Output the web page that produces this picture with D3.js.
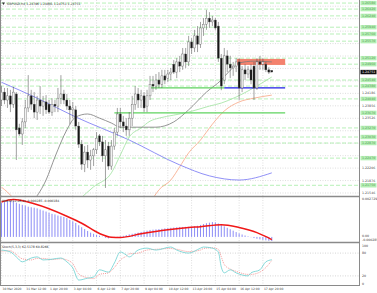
<!DOCTYPE html>
<html><head><meta charset="utf-8">
<script src="https://cdn.jsdelivr.net/npm/d3@7"></script>
<style>body{margin:0;background:#fff}svg{display:block}text{font-family:"DejaVu Sans",sans-serif}</style>
</head><body><div id="chart"></div>
<script>
// GBPUSD H4 candles [open, high, low, close]
const candles = [
[1.2401,1.2438,1.2385,1.2422],[1.2422,1.2433,1.2390,1.2401],[1.2401,1.2433,1.2380,1.2412],[1.2412,1.2428,1.2369,1.2390],
[1.2390,1.2436,1.2380,1.2422],[1.2417,1.2422,1.2242,1.2322],[1.2327,1.2338,1.2306,1.2311],[1.2311,1.2353,1.2282,1.2343],
[1.2343,1.2401,1.2327,1.2380],[1.2380,1.2467,1.2369,1.2412],[1.2412,1.2428,1.2375,1.2390],[1.2390,1.2422,1.2353,1.2369],
[1.2369,1.2412,1.2348,1.2401],[1.2401,1.2438,1.2364,1.2385],[1.2385,1.2412,1.2359,1.2396],[1.2396,1.2414,1.2364,1.2375],
[1.2390,1.2401,1.2364,1.2369],[1.2369,1.2406,1.2359,1.2390],[1.2390,1.2401,1.2369,1.2385],[1.2385,1.2433,1.2369,1.2406],
[1.2406,1.2467,1.2390,1.2417],[1.2417,1.2428,1.2390,1.2401],[1.2401,1.2417,1.2375,1.2385],[1.2385,1.2401,1.2337,1.2375],
[1.2375,1.2396,1.2353,1.2380],[1.2375,1.2385,1.2322,1.2332],[1.2332,1.2343,1.2274,1.2284],[1.2284,1.2295,1.2216,1.2231],
[1.2231,1.2279,1.2210,1.2263],[1.2263,1.2282,1.2221,1.2242],[1.2242,1.2269,1.2216,1.2253],[1.2253,1.2274,1.2226,1.2269],
[1.2269,1.2316,1.2258,1.2300],[1.2306,1.2311,1.2279,1.2290],[1.2290,1.2306,1.2237,1.2253],[1.2253,1.2295,1.2168,1.2269],
[1.2279,1.2290,1.2216,1.2226],[1.2226,1.2295,1.2216,1.2279],[1.2279,1.2327,1.2269,1.2316],[1.2316,1.2380,1.2306,1.2364],
[1.2364,1.2380,1.2327,1.2343],[1.2343,1.2359,1.2316,1.2332],[1.2332,1.2353,1.2306,1.2322],[1.2322,1.2369,1.2306,1.2353],
[1.2353,1.2412,1.2332,1.2390],[1.2390,1.2438,1.2375,1.2417],[1.2417,1.2433,1.2380,1.2401],[1.2401,1.2428,1.2380,1.2412],
[1.2412,1.2422,1.2369,1.2380],[1.2385,1.2428,1.2369,1.2412],[1.2412,1.2465,1.2401,1.2443],[1.2443,1.2465,1.2422,1.2438],
[1.2438,1.2470,1.2428,1.2454],[1.2454,1.2475,1.2433,1.2443],[1.2443,1.2481,1.2433,1.2465],[1.2465,1.2481,1.2443,1.2454],
[1.2459,1.2481,1.2449,1.2470],[1.2470,1.2486,1.2454,1.2475],[1.2496,1.2507,1.2470,1.2475],[1.2475,1.2512,1.2459,1.2502],
[1.2502,1.2518,1.2475,1.2491],[1.2491,1.2539,1.2481,1.2523],[1.2523,1.2539,1.2486,1.2502],[1.2502,1.2571,1.2491,1.2555],
[1.2555,1.2565,1.2523,1.2539],[1.2539,1.2587,1.2528,1.2571],[1.2571,1.2597,1.2528,1.2549],[1.2549,1.2608,1.2539,1.2592],
[1.2592,1.2618,1.2571,1.2602],[1.2602,1.2640,1.2587,1.2618],[1.2618,1.2634,1.2592,1.2608],[1.2608,1.2624,1.2597,1.2613],
[1.2613,1.2618,1.2587,1.2592],[1.2597,1.2608,1.2502,1.2512],[1.2512,1.2523,1.2427,1.2438],[1.2454,1.2539,1.2443,1.2518],
[1.2518,1.2533,1.2475,1.2496],[1.2496,1.2518,1.2459,1.2486],[1.2486,1.2502,1.2465,1.2491],[1.2491,1.2512,1.2475,1.2502],
[1.2502,1.2512,1.2401,1.2433],[1.2433,1.2491,1.2422,1.2481],[1.2481,1.2496,1.2454,1.2470],[1.2470,1.2491,1.2459,1.2481],
[1.2481,1.2496,1.2443,1.2454],[1.2491,1.2502,1.2401,1.2433],[1.2433,1.2512,1.2428,1.2502],[1.2502,1.2518,1.2481,1.2496],
[1.2496,1.2512,1.2481,1.2502],[1.2496,1.2502,1.2475,1.2481],[1.2481,1.2488,1.2470,1.2475],[1.24796,1.24801,1.24751,1.24751]
]

// moving averages, read at sample bars [bar, price]
const maGray = [[11,1.2136],[15,1.2189],[18,1.2250],[22,1.2322],[25,1.2356],[29,1.2364],[33,1.2353],[37,1.2340],[40,1.2329],[46,1.2329],[52,1.2329],[58,1.2343],[63,1.2375],[69,1.2422],[74,1.2454],[77,1.2480],[80,1.2499],[85,1.2504],[91,1.2502]]
const maGreen = [[26,1.2136],[31,1.2171],[37,1.2208],[40,1.2255],[43,1.2303],[47,1.2327],[50,1.2345],[53,1.2353],[58,1.2361],[63,1.2369],[70,1.2385],[74,1.2393],[79,1.2409],[83,1.2425],[87,1.2443],[91,1.2462]]
const maOrange = [[0,1.2170],[2,1.2157],[4,1.2141],[10,1.2100],[30,1.2060],[45,1.2085],[51,1.2141],[53,1.2163],[57,1.2189],[60,1.2224],[63,1.2261],[67,1.2295],[71,1.2337],[75,1.2372],[80,1.2396],[85,1.2406],[91,1.2414]]
const maBlue = [[0,1.2448],[12,1.2406],[25,1.2356],[43,1.2295],[60,1.2229],[70,1.2200],[80,1.2189],[91,1.2208]]

// drawn levels
const greenLevels = [[50,75,1.2433],[38,95.5,1.2367]]
const blueLevels = [[75,95.5,1.2433]]
const redZone = [79.3,95.5,1.2510,1.2494]
const dashLevels = [1.2658,1.2642,1.2624,1.2594,1.2576,1.2557,1.2512,1.2496,1.2454,1.2438,1.2404,1.2327,1.2303,1.2287,1.2247,1.2175]

const priceTicks = ["1.21546","1.21876","1.22206","1.22536","1.22866","1.23196","1.23526","1.23856","1.24186","1.24516","1.24846","1.25176","1.25506","1.25836","1.26166","1.26496"]
const lastPrice = "1.24751"

// MACD histogram per bar and signal samples
const macdHist = [0.00240,0.00245,0.00250,0.00252,0.00250,0.00240,0.00232,0.00225,0.00220,0.00212,0.00208,0.00205,0.00200,0.00192,0.00185,0.00178,
0.00170,0.00162,0.00158,0.00150,0.00145,0.00140,0.00132,0.00120,0.00110,0.00098,0.00082,0.00068,0.00055,0.00042,0.00030,0.00022,
0.00015,0.00008,0.00002,-0.00006,-0.00010,-0.00008,-0.00004,0.00001,0.00004,0.00008,0.00013,0.00018,0.00022,0.00026,0.00030,0.00035,
0.00039,0.00044,0.00049,0.00051,0.00053,0.00055,0.00057,0.00060,0.00062,0.00064,0.00066,0.00068,0.00070,0.00070,0.00071,0.00071,
0.00072,0.00074,0.00078,0.00084,0.00090,0.00096,0.00100,0.00104,0.00102,0.00094,0.00084,0.00074,0.00064,0.00054,0.00044,0.00034,
0.00025,0.00017,0.00010,0.00004,-0.00002,-0.00008,-0.00013,-0.00017,-0.00021,-0.00024,-0.00027,-0.000285]
const macdSignal = [[0,0.00245],[4,0.00262],[11,0.00232],[22,0.00145],[27,0.00096],[33,0.00024],[37,-0.00002],[40,-0.00004],[47,0.00022],[56,0.00050],[63,0.00066],[67,0.00072],[74,0.00086],[80,0.00066],[86,0.00030],[91,-0.000184]]

// stochastic samples [bar, value]
const stochK = [[0,88],[3,83],[5,70],[7,57],[10,67],[12,70],[14,62],[17,64],[20,67],[22,57],[24,41],[26,9],[29,14],[31,17],[33,36],[36,30],[38,54],[40,83],[42,75],[43,70],[46,88],[49,93],[52,88],[57,96],[59,88],[63,80],[67,93],[68,96],[71,93],[73,83],[74,43],[75,28],[77,36],[79,28],[83,20],[84,28],[87,36],[89,57],[91,62.5]]
const stochD = [[0,85],[3,86],[5,76],[7,65],[10,62],[12,66],[14,66],[17,63],[20,65],[22,62],[24,52],[26,25],[29,15],[31,13],[33,24],[36,28],[38,42],[40,62],[42,72],[43,78],[46,80],[49,88],[52,90],[57,92],[59,90],[63,84],[67,88],[68,92],[71,94],[73,90],[74,70],[75,50],[77,38],[79,32],[83,24],[84,24],[87,30],[89,42],[91,60.8]]

const timeLabels = ["30 Mar 2020","31 Mar 12:00","1 Apr 20:00","3 Apr 04:00","6 Apr 12:00","7 Apr 20:00","9 Apr 04:00","10 Apr 12:00","13 Apr 20:00","15 Apr 04:00","16 Apr 12:00","17 Apr 20:00"]
const timeBars = [0,8,16,24,32,40,48,56,64,72,80,88]

const W = 377, H = 293, axisX = 359
const mainBot = 196, macdTop = 198, macdBot = 241, stTop = 244, stBot = 285

const svg = d3.select("#chart").append("svg").attr("width", W).attr("height", H)
svg.append("rect").attr("width", W).attr("height", H).attr("fill", "#fff")

const x = d3.scaleLinear().domain([0, 91]).range([1.5, 271.8])
const y = d3.scaleLinear().domain([1.21546, 1.26661]).range([193, 0])
const yM = d3.scaleLinear().domain([-0.000285, 0.002729]).range([241, 198])
const yS = d3.scaleLinear().domain([0, 100]).range([283.5, 245.5])

const defs = svg.append("defs")
defs.append("clipPath").attr("id", "cMain").append("rect").attr("x", 0).attr("y", 0).attr("width", axisX).attr("height", mainBot)
defs.append("clipPath").attr("id", "cMacd").append("rect").attr("x", 0).attr("y", macdTop).attr("width", axisX).attr("height", macdBot - macdTop)
defs.append("clipPath").attr("id", "cSt").append("rect").attr("x", 0).attr("y", stTop).attr("width", axisX).attr("height", stBot - stTop)

// vertical grid
svg.append("g").selectAll("line").data(timeBars).join("line")
	.attr("x1", d => x(d)).attr("x2", d => x(d)).attr("y1", 0).attr("y2", stBot)
	.attr("stroke", "#c8c8c8").attr("stroke-width", 0.6).attr("stroke-dasharray", "1,1.5")

const main = svg.append("g").attr("clip-path", "url(#cMain)")

// horizontal grid
main.selectAll("line.grid").data(priceTicks).join("line")
	.attr("x1", 0).attr("x2", axisX).attr("y1", d => y(+d)).attr("y2", d => y(+d))
	.attr("stroke", "#c8c8c8").attr("stroke-width", 0.6).attr("stroke-dasharray", "1,1.5")

// dashed green levels
main.selectAll("line.dl").data(dashLevels).join("line")
	.attr("x1", 0).attr("x2", axisX).attr("y1", d => y(d)).attr("y2", d => y(d))
	.attr("stroke", "#a6eca6").attr("stroke-width", 0.8).attr("stroke-dasharray", "4,2")

// red zone
main.append("rect")
	.attr("x", x(redZone[0])).attr("width", x(redZone[1]) - x(redZone[0]))
	.attr("y", y(redZone[2])).attr("height", y(redZone[3]) - y(redZone[2]))
	.attr("fill", "#f4826e")

// moving averages
const maLine = d3.line().x(d => x(d[0])).y(d => y(d[1])).curve(d3.curveMonotoneX)
const mas = [[maOrange, "#f8a483"], [maBlue, "#7474f4"], [maGreen, "#9ee29e"], [maGray, "#7a7a7a"]]
mas.forEach(m => {
	main.append("path").datum(m[0]).attr("d", maLine)
		.attr("fill", "none").attr("stroke", m[1]).attr("stroke-width", 0.8)
})

// solid levels
main.selectAll("line.gl").data(greenLevels).join("line")
	.attr("x1", d => x(d[0])).attr("x2", d => x(d[1])).attr("y1", d => y(d[2])).attr("y2", d => y(d[2]))
	.attr("stroke", "#5fd35f").attr("stroke-width", 1.3)
main.selectAll("line.bl").data(blueLevels).join("line")
	.attr("x1", d => x(d[0])).attr("x2", d => x(d[1])).attr("y1", d => y(d[2])).attr("y2", d => y(d[2]))
	.attr("stroke", "#1f1fe6").attr("stroke-width", 1.3)

// candles
const cg = main.append("g")
cg.selectAll("line").data(candles).join("line")
	.attr("x1", (d, i) => x(i)).attr("x2", (d, i) => x(i))
	.attr("y1", d => y(d[1])).attr("y2", d => y(d[2]))
	.attr("stroke", "#444").attr("stroke-width", 0.5)
cg.selectAll("rect").data(candles).join("rect")
	.attr("x", (d, i) => x(i) - 1).attr("width", 2)
	.attr("y", d => y(Math.max(d[0], d[3])))
	.attr("height", d => Math.max(0.6, Math.abs(y(d[0]) - y(d[3]))))
	.attr("fill", d => d[3] >= d[0] ? "#f2f2f2" : "#161616")
	.attr("stroke", "#555").attr("stroke-width", 0.35)

// MACD
const mg = svg.append("g").attr("clip-path", "url(#cMacd)")
mg.selectAll("line").data(macdHist).join("line")
	.attr("x1", (d, i) => x(i)).attr("x2", (d, i) => x(i))
	.attr("y1", yM(0)).attr("y2", d => yM(d))
	.attr("stroke", "#8c8cf6").attr("stroke-width", 1)
mg.append("path").datum(macdSignal)
	.attr("d", d3.line().x(d => x(d[0])).y(d => yM(d[1])).curve(d3.curveMonotoneX))
	.attr("fill", "none").attr("stroke", "#f01818").attr("stroke-width", 1.5)

// Stochastic
const sg = svg.append("g").attr("clip-path", "url(#cSt)")
sg.selectAll("line").data([80, 20]).join("line")
	.attr("x1", 0).attr("x2", axisX).attr("y1", d => yS(d)).attr("y2", d => yS(d))
	.attr("stroke", "#b8b8b8").attr("stroke-width", 0.6).attr("stroke-dasharray", "1,1.5")
const sLine = d3.line().x(d => x(d[0])).y(d => yS(d[1])).curve(d3.curveMonotoneX)
sg.append("path").datum(stochD).attr("d", sLine)
	.attr("fill", "none").attr("stroke", "#f07070").attr("stroke-width", 0.7).attr("stroke-dasharray", "1,1")
sg.append("path").datum(stochK).attr("d", sLine)
	.attr("fill", "none").attr("stroke", "#6ad0d0").attr("stroke-width", 0.8)

// frames
const frame = svg.append("g").attr("stroke", "#8a8a8a").attr("fill", "none")
frame.append("line").attr("x1", axisX + 0.5).attr("x2", axisX + 0.5).attr("y1", 0).attr("y2", stBot)
frame.append("line").attr("x1", 0).attr("x2", axisX + 1).attr("y1", 196.5).attr("y2", 196.5).attr("stroke-width", 1.6)
frame.append("line").attr("x1", 0).attr("x2", axisX + 1).attr("y1", 242.5).attr("y2", 242.5).attr("stroke-width", 1.6)
frame.append("line").attr("x1", 0).attr("x2", axisX + 1).attr("y1", stBot + 0.5).attr("y2", stBot + 0.5)
frame.append("line").attr("x1", 0.5).attr("x2", 0.5).attr("y1", 0).attr("y2", stBot)

// right axis labels; grid labels hidden where a level label sits on them
const ax = svg.append("g").attr("font-size", "3.2px").attr("fill", "#444")
const boxed = dashLevels.concat([greenLevels[1][2], +lastPrice])
const freeTicks = priceTicks.filter(t => boxed.every(b => Math.abs(y(+t) - y(b)) > 4.6))
ax.selectAll("text.t").data(freeTicks).join("text")
	.attr("x", axisX + 3).attr("y", d => y(+d) + 1.1).text(d => d)
const gl = ax.selectAll("g.gl").data(dashLevels.concat([greenLevels[1][2]])).join("g")
gl.append("rect").attr("x", axisX + 1.5).attr("width", 16).attr("y", d => y(d) - 2.2).attr("height", 4.4).attr("fill", "#b4efb4")
gl.append("text").attr("x", axisX + 3).attr("y", d => y(d) + 1.1).attr("fill", "#5a9a5a").text(d => d.toFixed(5))
ax.append("rect").attr("x", axisX + 1.5).attr("width", 16).attr("y", y(+lastPrice) - 2.2).attr("height", 4.4).attr("fill", "#111")
ax.append("text").attr("x", axisX + 3).attr("y", y(+lastPrice) + 1.1).attr("fill", "#fff").text(lastPrice)
ax.append("text").attr("x", axisX + 3).attr("y", 200).text("0.002729")
ax.append("text").attr("x", axisX + 3).attr("y", 236.5).text("0.00")
ax.append("text").attr("x", axisX + 3).attr("y", 240.5).text("-0.000285")
ax.selectAll("text.s").data([100, 80, 20, 0]).join("text")
	.attr("x", axisX + 3).attr("y", d => yS(d) + 1.1).text(d => d)

// time labels
svg.append("g").attr("font-size", "3px").attr("fill", "#444")
	.selectAll("text").data(timeLabels).join("text")
	.attr("x", (d, i) => x(timeBars[i]) + 1).attr("y", 290).text(d => d)

// titles
const tt = svg.append("g").attr("font-size", "3.1px").attr("fill", "#333")
tt.append("path").attr("d", "M2,2.5 L5,2.5 L3.5,5 Z").attr("fill", "#333")
tt.append("text").attr("x", 7).attr("y", 5).text("GBPUSD,H4  1.24796  1.24801  1.24751  1.24751")
tt.append("text").attr("x", 2).attr("y", 202).text("MACD(12,26,9) -0.000285 -0.000184")
tt.append("text").attr("x", 2).attr("y", 248).text("Stoch(5,3,3) 62.5178 60.8266")
</script>
</body></html>
